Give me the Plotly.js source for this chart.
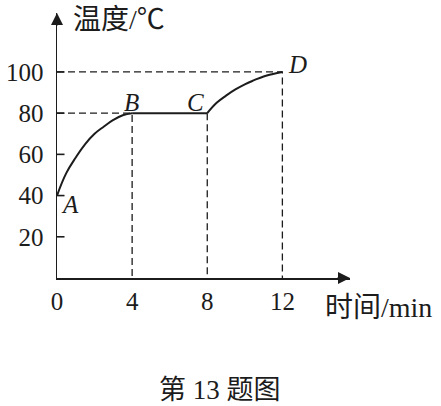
<!DOCTYPE html>
<html>
<head>
<meta charset="utf-8">
<script src="https://cdn.plot.ly/plotly-3.0.1.min.js"></script>
<style>html,body{margin:0;padding:0;background:#fff;}#chart{width:441px;height:406px;}</style>
</head>
<body>
<div id="chart"></div>
<script>
// A -> B : heating (min, °C)
const timeAB = [0, 0.5, 1, 1.5, 2, 2.5, 3, 3.5, 4];
const tempAB = [40, 51, 58.5, 65, 70, 73.5, 76.7, 79, 80];
// B -> C : constant temperature
const timeBC = [4, 8];
const tempBC = [80, 80];
// C -> D : heating
const timeCD = [8, 8.5, 9, 9.5, 10, 10.5, 11, 11.5, 12];
const tempCD = [80, 85, 88.5, 91.5, 94, 96, 97.8, 99, 100];

const xTicks = [0, 4, 8, 12];
const yTicks = [20, 40, 60, 80, 100];
const pointNames = ['A', 'B', 'C', 'D'];
const yTitle = '温度/℃';
const xTitle = '时间/min';
const caption = '第 13 题图';

const ink = '#1c1c1c';
const serif = 'Liberation Serif, Times New Roman, Noto Sans CJK SC, serif';
const cjk = 'Liberation Serif, Noto Sans CJK SC, serif';

const pts = [
  [timeAB[0], tempAB[0]],
  [timeAB[timeAB.length-1], tempAB[tempAB.length-1]],
  [timeCD[0], tempCD[0]],
  [timeCD[timeCD.length-1], tempCD[tempCD.length-1]]
];
const B = pts[1], C = pts[2], D = pts[3];

// inward tick marks on the y axis (length in x units)
const tickLenX = 0.4;
const tickX = yTicks.flatMap(() => [0, tickLenX, null]);
const tickY = yTicks.flatMap(v => [v, v, null]);

const dash = {color: ink, width: 1.3, dash: '7px,4px'};
const traces = [
  {x: [0, B[0], B[0]], y: [B[1], B[1], 0], mode: 'lines', line: dash, hoverinfo: 'skip'},
  {x: [C[0], C[0]], y: [C[1], 0], mode: 'lines', line: dash, hoverinfo: 'skip'},
  {x: [0, D[0], D[0]], y: [D[1], D[1], 0], mode: 'lines', line: dash, hoverinfo: 'skip'},
  {x: tickX, y: tickY, mode: 'lines', line: {color: ink, width: 1.6}, connectgaps: false, cliponaxis: false, hoverinfo: 'skip'},
  {x: timeAB, y: tempAB, mode: 'lines', line: {color: ink, width: 2, shape: 'spline', smoothing: 1.2}},
  {x: timeBC, y: tempBC, mode: 'lines', line: {color: ink, width: 2}},
  {x: timeCD, y: tempCD, mode: 'lines', line: {color: ink, width: 2, shape: 'spline', smoothing: 1.2}}
];

const shifts = [[13, -9], [-1, 11], [-12, 11], [15, 7]];
const annotations = pointNames.map((n, i) => ({
  x: pts[i][0], y: pts[i][1], xref: 'x', yref: 'y', text: n, showarrow: false,
  xshift: shifts[i][0], yshift: shifts[i][1], xanchor: 'center', yanchor: 'middle',
  font: {family: serif, size: 25, color: ink, style: 'italic'}
}));

const xMax = 15.6, yMax = 128.6;
annotations.push(
  {x: xMax, y: 0, xref: 'x', yref: 'y', ax: -14, ay: 0, text: '', showarrow: true,
   arrowhead: 2, arrowsize: 1.6, arrowwidth: 1.5, arrowcolor: ink},
  {x: 0, y: yMax, xref: 'x', yref: 'y', ax: 0, ay: 14, text: '', showarrow: true,
   arrowhead: 2, arrowsize: 1.6, arrowwidth: 1.5, arrowcolor: ink},
  {x: 0.2116, y: 0.974, xref: 'paper', yref: 'paper', xanchor: 'center', yanchor: 'middle',
   text: yTitle, showarrow: false, font: {family: cjk, size: 28, color: ink}},
  {x: 1.0956, y: -0.113, xref: 'paper', yref: 'paper', xanchor: 'center', yanchor: 'middle',
   text: xTitle, showarrow: false, font: {family: cjk, size: 28, color: ink}},
  {x: 0.556, y: -0.4226, xref: 'paper', yref: 'paper', xanchor: 'center', yanchor: 'middle',
   text: caption, showarrow: false, font: {family: cjk, size: 27, color: ink}}
);

const layout = {
  width: 441, height: 406,
  margin: {l: 57, r: 91, t: 13, b: 128},
  paper_bgcolor: '#fff', plot_bgcolor: '#fff',
  showlegend: false,
  xaxis: {range: [0, xMax], showgrid: false, zeroline: false, showline: true,
    linecolor: ink, linewidth: 1.5, tickvals: xTicks, ticks: '',
    tickfont: {family: serif, size: 25, color: ink}, fixedrange: true},
  yaxis: {range: [0, yMax], showgrid: false, zeroline: false, showline: true,
    linecolor: ink, linewidth: 1.5, tickmode: 'array', tickvals: yTicks, ticks: '',
    ticklabelstandoff: 7,
    tickfont: {family: serif, size: 25, color: ink}, fixedrange: true},
  annotations: annotations
};

Plotly.newPlot('chart', traces, layout, {staticPlot: true});
</script>
</body>
</html>
